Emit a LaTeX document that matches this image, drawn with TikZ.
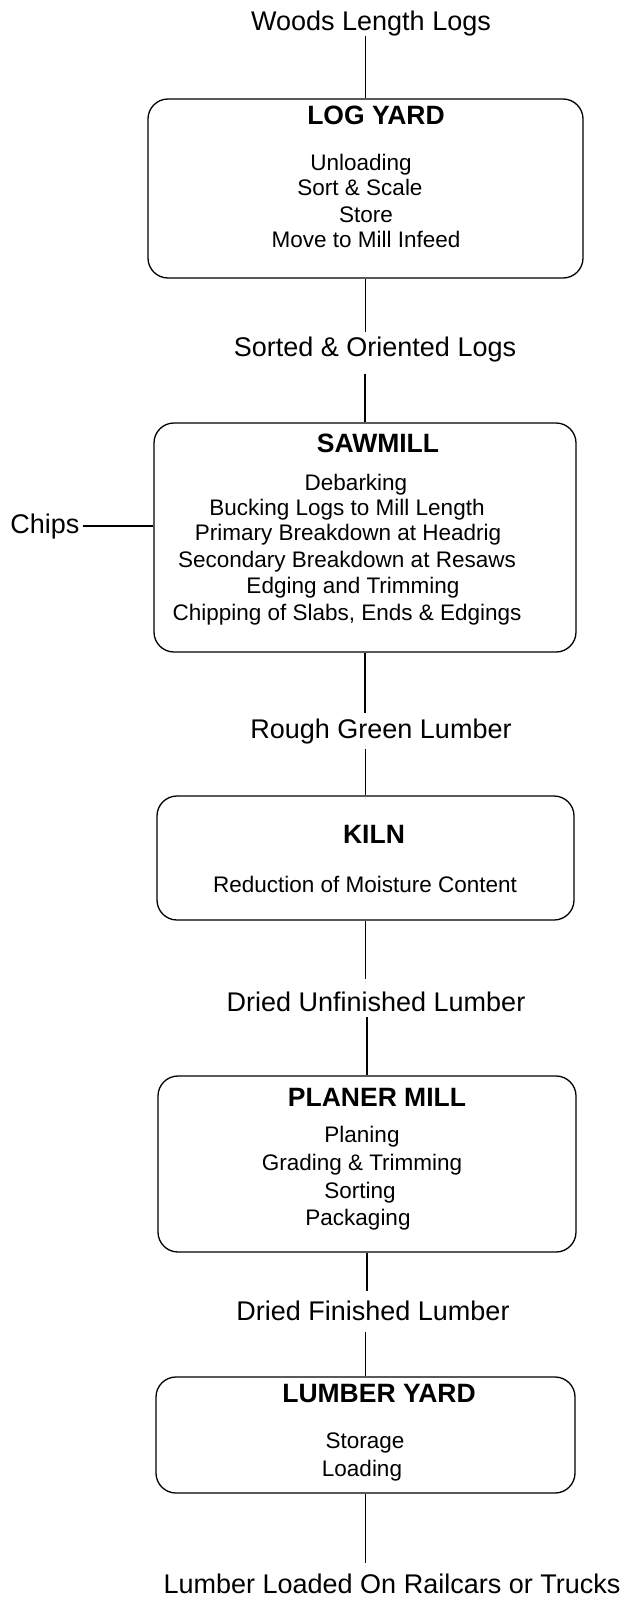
\documentclass[tikz,border=0pt]{standalone}
\usepackage{fontspec}
\setmainfont{Liberation Sans}
\begin{document}
\begin{tikzpicture}[x=1pt,y=-1pt,
  procbox/.style={draw, rounded corners=20pt, line width=1.3pt, inner sep=0pt},
  flowlbl/.style={font=\fontsize{27}{32}\selectfont, inner sep=0pt, outer sep=0pt, anchor=base},
  ttl/.style={font=\bfseries\fontsize{26.5}{30}\selectfont, inner sep=0pt, anchor=base},
  itm/.style={font=\fontsize{22.5}{26}\selectfont, inner sep=0pt, anchor=base},
  conn/.style={line width=1.1pt}]
\useasboundingbox (0,0) rectangle (622,1598);

% boxes
\node[procbox, minimum width=435pt, minimum height=179pt] (logyard) at (365.5,188.5) {};
\node[procbox, minimum width=422pt, minimum height=229pt] (sawmill) at (365,537.5) {};
\node[procbox, minimum width=417pt, minimum height=124pt] (kiln) at (365.5,858) {};
\node[procbox, minimum width=418pt, minimum height=176pt] (planer) at (367,1164) {};
\node[procbox, minimum width=419pt, minimum height=116pt] (lumberyard) at (365.5,1435) {};

% flow labels
\node[flowlbl] (woods) at (371,30) {Woods Length Logs};
\node[flowlbl] (sorted) at (375,356) {Sorted \& Oriented Logs};
\node[flowlbl] (rough) at (381,738) {Rough Green Lumber};
\node[flowlbl] (dunf) at (376,1011) {Dried Unfinished Lumber};
\node[flowlbl] (dfin) at (373,1320) {Dried Finished Lumber};
\node[flowlbl] (loaded) at (392,1593) {Lumber Loaded On Railcars or Trucks};
\node[flowlbl] (chips) at (45,533) {Chips};

% titles
\node[ttl] (t1) at (376,124) {LOG YARD};
\node[ttl] (t2) at (378,452) {SAWMILL};
\node[ttl] (t3) at (374,843) {KILN};
\node[ttl] (t4) at (377,1106) {PLANER MILL};
\node[ttl] (t5) at (379,1402) {LUMBER YARD};

% log yard items
\node[itm] (a1) at (361,170) {Unloading};
\node[itm] (a2) at (360,195) {Sort \& Scale};
\node[itm] (a3) at (366,222) {Store};
\node[itm] (a4) at (366,247) {Move to Mill Infeed};

% sawmill items
\node[itm] (b1) at (356,490) {Debarking};
\node[itm] (b2) at (347,515) {Bucking Logs to Mill Length};
\node[itm] (b3) at (348,540) {Primary Breakdown at Headrig};
\node[itm] (b4) at (347,567) {Secondary Breakdown at Resaws};
\node[itm] (b5) at (353,593) {Edging and Trimming};
\node[itm] (b6) at (347,620) {Chipping of Slabs, Ends \& Edgings};

% kiln item
\node[itm] (c1) at (365,892) {Reduction of Moisture Content};

% planer items
\node[itm] (d1) at (362,1142) {Planing};
\node[itm] (d2) at (362,1170) {Grading \& Trimming};
\node[itm] (d3) at (360,1198) {Sorting};
\node[itm] (d4) at (358,1225) {Packaging};

% lumber yard items
\node[itm] (e1) at (365,1448) {Storage};
\node[itm] (e2) at (362,1476) {Loading};

% connectors
\draw[conn] (logyard.north |- woods.south) -- (logyard.north);
\draw[conn] (logyard.south) -- ([yshift=4pt]logyard.south |- sorted.north);
\draw[conn] ([yshift=-12pt]sawmill.north |- sorted.south) -- (sawmill.north);
\draw[conn] (sawmill.south) -- ([yshift=5pt]sawmill.south |- rough.north);
\draw[conn] ([yshift=-5pt]kiln.north |- rough.south) -- (kiln.north);
\draw[conn] (kiln.south) -- ([yshift=12pt]kiln.south |- dunf.north);
\draw[conn] ([yshift=-6pt]planer.north |- dunf.south) -- (planer.north);
\draw[conn] (planer.south) -- ([yshift=9pt]planer.south |- dfin.north);
\draw[conn] ([yshift=-12pt]lumberyard.north |- dfin.south) -- (lumberyard.north);
\draw[conn] (lumberyard.south) -- ([yshift=10pt]lumberyard.south |- loaded.north);
\draw[conn] ([xshift=3pt]chips.east) -- (sawmill.west |- chips.east);
\end{tikzpicture}
\end{document}
